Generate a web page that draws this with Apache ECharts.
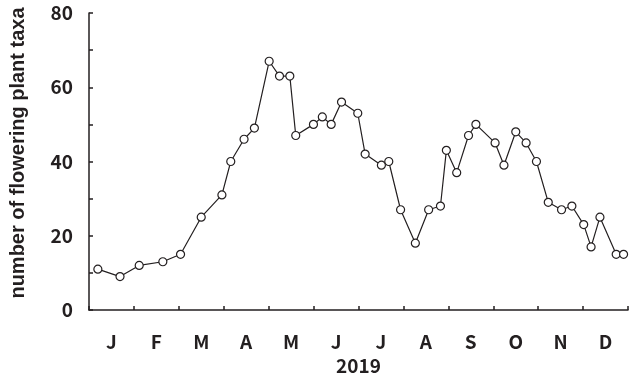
<!DOCTYPE html>
<html>
<head>
<meta charset="utf-8">
<script src="https://cdn.jsdelivr.net/npm/echarts@6/dist/echarts.min.js"></script>
<style>
html,body{margin:0;padding:0;background:#fff;}
#chart{width:635px;height:374px;}
</style>
</head>
<body>
<div id="chart"></div>
<script>
const months = ['J','F','M','A','M','J','J','A','S','O','N','D'];
const dates = ['2019-01-07','2019-01-22','2019-02-04','2019-02-20','2019-03-04','2019-03-18','2019-04-01','2019-04-07','2019-04-16','2019-04-23',
  '2019-05-03','2019-05-10','2019-05-17','2019-05-21','2019-06-02','2019-06-08','2019-06-14','2019-06-21','2019-07-02','2019-07-07',
  '2019-07-18','2019-07-23','2019-07-31','2019-08-10','2019-08-19','2019-08-27','2019-08-31','2019-09-07','2019-09-15','2019-09-20',
  '2019-10-03','2019-10-09','2019-10-17','2019-10-24','2019-10-31','2019-11-08','2019-11-17','2019-11-24','2019-12-02','2019-12-07',
  '2019-12-13','2019-12-24','2019-12-29'];
const taxa = [11,9,12,13,15,25,31,40,46,49,
  67,63,63,47,50,52,50,56,53,42,
  39,40,27,18,27,28,43,37,47,50,
  45,39,48,45,40,29,27,28,23,17,
  25,15,15];
const yTicks = [0,20,40,60,80];
const yearLabel = '2019';
const yTitle = 'number of flowering plant taxa';

const chart = echarts.init(document.getElementById('chart'), null, {renderer:'canvas'});
const ink = '#231f20';
const tickFont = '"Noto Sans CJK JP", "Noto Sans", sans-serif';
chart.setOption({
  animation:false,
  backgroundColor:'#fff',
  grid:{left:89,right:7,top:13,bottom:64,containLabel:false,outerBoundsMode:'none'},
  xAxis:[
    {type:'time',min:'2019-01-01',max:'2020-01-01',show:false},
    {type:'category',data:months,position:'bottom',boundaryGap:true,
     axisLine:{lineStyle:{color:ink,width:1.5}},
     axisTick:{show:true,inside:true,length:4,interval:0,lineStyle:{color:ink,width:1.5}},
     axisLabel:{color:ink,fontSize:19,fontWeight:'bold',fontFamily:tickFont,margin:22,interval:0},
     splitLine:{show:false},
     name:yearLabel,nameLocation:'middle',nameGap:45,
     nameTextStyle:{color:ink,fontSize:19,fontWeight:'bold',fontFamily:tickFont}}
  ],
  yAxis:{type:'value',min:0,max:80,interval:10,
    axisLine:{show:true,lineStyle:{color:ink,width:1.5}},
    axisTick:{show:true,inside:true,length:4,lineStyle:{color:ink,width:1.5}},
    splitLine:{show:false},
    axisLabel:{color:ink,fontSize:19,fontWeight:'bold',fontFamily:tickFont,margin:16,
      formatter:v=>yTicks.includes(v)?String(v):''},
    name:yTitle,nameLocation:'middle',nameRotate:90,nameGap:61,
    nameTextStyle:{color:ink,fontSize:20,fontWeight:'bold',fontFamily:'"Liberation Sans", Arial, sans-serif',padding:[0,0,0,17]}
  },
  series:[{
    type:'line',xAxisIndex:0,
    data:dates.map((d,i)=>[d,taxa[i]]),
    symbol:'circle',symbolSize:8,showAllSymbol:true,
    lineStyle:{color:ink,width:1.2},
    itemStyle:{color:'#fff',borderColor:ink,borderWidth:1.2}
  }]
});
</script>
</body>
</html>
